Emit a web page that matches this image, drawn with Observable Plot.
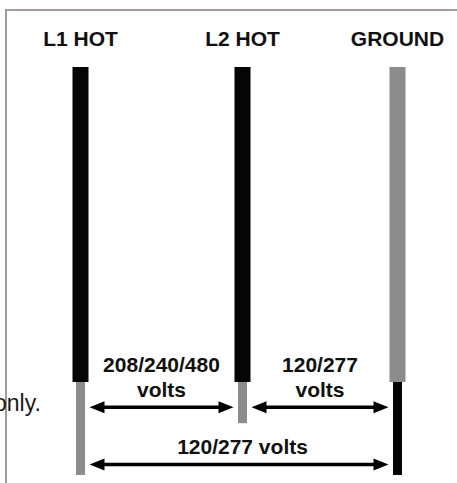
<!DOCTYPE html>
<html>
<head>
<meta charset="utf-8">
<script src="https://cdn.jsdelivr.net/npm/d3@7"></script>
<script src="https://cdn.jsdelivr.net/npm/@observablehq/plot@0.6"></script>
<style>
  html, body { margin: 0; padding: 0; background: #fff; }
  #wrap { position: relative; width: 457px; height: 483px; overflow: hidden; background: #fff; }
  #wrap svg { position: absolute; left: 0; top: 0; }
  #frame { position: absolute; left: 5px; top: 9px; width: 460px; height: 480px;
           border-top: 2px solid #a89d9d; border-left: 2px solid #a39a9a; box-sizing: border-box; }
  #note { position: absolute; left: -6px; top: 392px; font: 23px/23px "Liberation Sans", Arial, sans-serif; color: #1a1a1a; }
</style>
</head>
<body>
<div id="wrap"><div id="frame"></div><div id="note">only.</div></div>
<script>
// Wires (categories) and their two-tone segments
const wires = ["L1 HOT", "L2 HOT", "GROUND"];
const upperTone = ["dark", "dark", "light"];
const lowerTone = ["light", "light", "dark"];
const splitLevel = [77.2, 77.2, 77.2];
const endLevel = [100, 87.3, 100];

// Voltage spans between wires
const spanFrom = ["L1 HOT", "L2 HOT", "L1 HOT"];
const spanTo = ["L2 HOT", "GROUND", "GROUND"];
const spanLevel = [83.3, 83.3, 97.3];
const spanLabel = ["208/240/480\nvolts", "120/277\nvolts", "120/277 volts"];

const wireRows = wires.map((name, i) => ({
  i, name, upper: upperTone[i], lower: lowerTone[i], split: splitLevel[i], end: endLevel[i]
}));
const spanRows = spanFrom.map((f, k) => ({
  from: wires.indexOf(f), to: wires.indexOf(spanTo[k]), level: spanLevel[k], label: spanLabel[k]
}));

const headRight = { draw(ctx, size) { const r = Math.sqrt(size / Math.PI); ctx.moveTo(0, 0); ctx.lineTo(-2.5 * r, -r); ctx.lineTo(-2.5 * r, r); ctx.closePath(); } };
const headLeft  = { draw(ctx, size) { const r = Math.sqrt(size / Math.PI); ctx.moveTo(0, 0); ctx.lineTo(2.5 * r, -r); ctx.lineTo(2.5 * r, r); ctx.closePath(); } };

const font = "'Liberation Sans', Arial, Helvetica, sans-serif";

const chart = Plot.plot({
  width: 457,
  height: 483,
  margin: 0,
  style: { fontFamily: font, background: "transparent", overflow: "visible" },
  x: { type: "linear", domain: [0, 1, 2], range: [80, 242, 397], axis: null },
  y: { type: "linear", domain: [0, 100], range: [67, 475], axis: null },
  color: { domain: ["dark", "light"], range: ["#050505", "#8c8c8c"] },
  marks: [
    Plot.ruleX(wireRows, { x: "i", y1: 0, y2: "split", stroke: "upper", strokeWidth: 16 }),
    Plot.ruleX(wireRows, { x: "i", y1: "split", y2: "end", stroke: "lower", strokeWidth: 9 }),
    Plot.text(wireRows, { x: "i", y: 0, text: "name", dy: -22, lineAnchor: "bottom", fontSize: 21, fontWeight: "bold", fill: "#111" }),
    Plot.arrow(spanRows, { x1: "from", x2: "to", y1: "level", y2: "level", headLength: 0, insetStart: 18, insetEnd: 18, strokeWidth: 3.5, stroke: "#000" }),
    Plot.dot(spanRows, { x: "from", y: "level", dx: 9, symbol: headLeft, r: 6, fill: "#000", stroke: "none" }),
    Plot.dot(spanRows, { x: "to", y: "level", dx: -9, symbol: headRight, r: 6, fill: "#000", stroke: "none" }),
    Plot.text(spanRows, { x: d => (d.from + d.to) / 2, y: "level", dy: -10, text: "label", lineAnchor: "bottom", lineHeight: 1.2, fontSize: 21, fontWeight: "bold", fill: "#111" })
  ]
});
document.getElementById("wrap").appendChild(chart);
</script>
</body>
</html>
